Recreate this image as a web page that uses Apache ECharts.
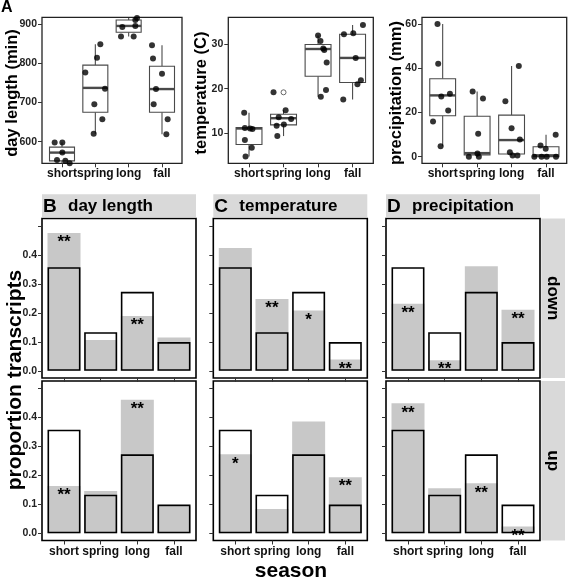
<!DOCTYPE html>
<html><head><meta charset="utf-8">
<script src="https://cdn.jsdelivr.net/npm/echarts@6/dist/echarts.min.js"></script>
<style>html,body{margin:0;padding:0;background:#fff}#c{width:568px;height:579px}</style>
</head><body><div id="c"></div>
<script>
// ---------- data ----------
const seasons = ['short', 'spring', 'long', 'fall'];

// Panel A: box stats [min, q1, median, q3, max] per season
const dayBox = [[545, 551, 572, 586, 598], [620, 675, 737, 795, 848], [868, 879, 895, 910, 915], [619, 675, 734, 792, 846]];
const tempBox = [[4.8, 7.5, 11.1, 11.3, 14.6], [9.4, 11.9, 13.4, 14.3, 15.2], [18.2, 22.8, 28.9, 29.9, 31.9], [17.6, 21.4, 26.9, 32.2, 34.3]];
const precBox = [[4.7, 18.5, 27.7, 35.2, 60], [0, 0.8, 1.6, 18.3, 29.5], [0.5, 1.2, 7.5, 18.8, 41], [0, 0, 0.6, 4.5, 9.9]];
// jittered points: [season index, jitter, value]
const dayPts = [
  [0, -0.22, 598], [0, 0.01, 598], [0, 0.01, 572], [0, -0.15, 553], [0, 0.10, 551], [0, 0.23, 545],
  [1, 0.15, 848], [1, 0.05, 814], [1, -0.30, 776], [1, -0.03, 695], [1, 0.29, 735], [1, 0.21, 657], [1, -0.05, 620],
  [2, -0.23, 868], [2, 0.15, 868], [2, -0.19, 892], [2, 0.20, 895], [2, 0.20, 910], [2, 0.25, 915],
  [3, -0.30, 846], [3, -0.27, 812], [3, 0.00, 773], [3, -0.18, 734], [3, -0.25, 695], [3, 0.17, 657], [3, 0.13, 619]
];
const tempPts = [
  [0, -0.14, 14.6], [0, -0.12, 11.2], [0, 0.03, 11.1], [0, 0.10, 11.0], [0, -0.12, 8.5], [0, 0.08, 6.8], [0, -0.10, 4.8],
  [1, -0.29, 19.2], [1, 0.06, 15.2], [1, -0.14, 13.6], [1, 0.22, 13.2], [1, -0.20, 11.7], [1, 0.01, 12.0], [1, -0.18, 9.4],
  [2, 0.00, 31.9], [2, 0.07, 30.7], [2, 0.15, 29.0], [2, 0.18, 28.7], [2, 0.25, 25.9], [2, 0.23, 19.7], [2, 0.08, 18.2],
  [3, 0.30, 34.3], [3, -0.25, 32.2], [3, 0.02, 32.4], [3, 0.09, 26.9], [3, 0.24, 21.9], [3, 0.14, 21.0], [3, -0.27, 17.6]
];
const tempOutliers = [[1, 19.2]];
const precPts = [
  [0, -0.15, 60], [0, -0.13, 42], [0, -0.04, 27.2], [0, 0.21, 28.4], [0, 0.16, 20.9], [0, -0.28, 15.9], [0, -0.06, 4.7],
  [1, -0.13, 29.5], [1, 0.17, 26.3], [1, 0.03, 10.4], [1, -0.24, 0], [1, 0.01, 1.4], [1, 0.05, 0],
  [2, 0.21, 41], [2, -0.18, 25.1], [2, 0.00, 12.9], [2, 0.24, 7.8], [2, -0.05, 2.0], [2, 0.03, 0.5], [2, 0.17, 0.5],
  [3, 0.28, 9.9], [3, -0.16, 5.0], [3, -0.01, 3.6], [3, -0.34, 0], [3, -0.13, 0], [3, 0.02, 0], [3, 0.29, 0]
];
const dayTicks = [600, 700, 800, 900];
const tempTicks = [10, 20, 30];
const precTicks = [0, 20, 40, 60];

// Panels B-D: expected (outlined) and observed (grey) proportions
const expected = [0.357, 0.133, 0.272, 0.099];
const dayDown = [0.475, 0.106, 0.189, 0.115];
const tempDown = [0.423, 0.247, 0.208, 0.039];
const precDown = [0.231, 0.036, 0.360, 0.210];
const dayUp = [0.163, 0.146, 0.460, 0.093];
const tempUp = [0.272, 0.084, 0.385, 0.193];
const precUp = [0.448, 0.155, 0.172, 0.023];
const dayDownStars = ['**', '', '**', ''];
const tempDownStars = ['', '**', '*', '**'];
const precDownStars = ['**', '**', '', '**'];
const dayUpStars = ['**', '', '**', ''];
const tempUpStars = ['*', '', '', '**'];
const precUpStars = ['**', '', '**', '**'];
const propTicks = [0, 0.1, 0.2, 0.3, 0.4, 0.5];
const propLabels = [0, 0.1, 0.2, 0.3, 0.4];

const topTitles = ['day length (min)', 'temperature (C)', 'precipitation (mm)'];
const stripLetters = ['B', 'C', 'D'];
const stripTitles = ['day length', 'temperature', 'precipitation'];
const rowTitles = ['down', 'up'];

// ---------- layout ----------
const FONT = '"Liberation Sans", Arial, Helvetica, sans-serif';
const topGrid = [
  { left: 42, top: 17.3, width: 140, height: 146 },
  { left: 228.3, top: 17.3, width: 145, height: 146 },
  { left: 422, top: 17.3, width: 144.7, height: 146 }
];
const topRange = [[544.7, 917], [3.3, 36], [-3, 63]];
const colLeft = [42, 213.3, 386], colW = 154;
const rowTop = [218.5, 381], rowH = 159.5;

const grids = [], xAxes = [], yAxes = [], series = [];

function xAxisDef(gi, showLabels, margin) {
  return {
    type: 'value', gridIndex: gi, min: -0.6, max: 3.6, position: 'bottom',
    axisLine: { show: false, onZero: false }, splitLine: { show: false },
    axisTick: { show: true, customValues: [0, 1, 2, 3], length: 4, lineStyle: { color: '#333', width: 1 } },
    axisLabel: {
      show: showLabels, customValues: [0, 1, 2, 3], margin: margin,
      formatter: v => seasons[Math.round(v)] || '',
      color: '#111', fontWeight: 'bold', fontSize: 12, fontFamily: FONT
    }
  };
}
function yAxisDef(gi, min, max, ticks, labels, showLabels) {
  return {
    type: 'value', gridIndex: gi, min: min, max: max, position: 'left',
    axisLine: { show: false, onZero: false }, splitLine: { show: false },
    axisTick: { show: true, customValues: ticks, length: 4, lineStyle: { color: '#333', width: 1 } },
    axisLabel: {
      show: showLabels, customValues: labels, margin: 5,
      color: '#222', fontWeight: 'bold', fontSize: 10.5, fontFamily: FONT,
      formatter: v => (ticks === propTicks ? v.toFixed(1) : String(v))
    }
  };
}

function renderBox(params, api) {
  const x = api.value(0);
  const p = [1, 2, 3, 4, 5].map(k => api.coord([x, api.value(k)]));
  const half = api.size([0.75, 0])[0] / 2;
  const cx = p[0][0];
  const st = { stroke: '#4a4a4a', lineWidth: 1.1 };
  return {
    type: 'group', children: [
      { type: 'line', shape: { x1: cx, y1: p[0][1], x2: cx, y2: p[1][1] }, style: st },
      { type: 'line', shape: { x1: cx, y1: p[3][1], x2: cx, y2: p[4][1] }, style: st },
      { type: 'rect', shape: { x: cx - half, y: p[3][1], width: 2 * half, height: p[1][1] - p[3][1] }, style: { fill: '#fff', stroke: '#4a4a4a', lineWidth: 1.1 } },
      { type: 'line', shape: { x1: cx - half, y1: p[2][1], x2: cx + half, y2: p[2][1] }, style: { stroke: '#4a4a4a', lineWidth: 2.4 } }
    ]
  };
}

// top panels
const boxes = [dayBox, tempBox, precBox];
const pts = [dayPts, tempPts, precPts];
const tTicks = [dayTicks, tempTicks, precTicks];
for (let i = 0; i < 3; i++) {
  const g = grids.length;
  grids.push(Object.assign({ show: true, borderColor: '#222', borderWidth: 1.3, backgroundColor: '#fff' }, topGrid[i]));
  xAxes.push(xAxisDef(g, true, 4));
  yAxes.push(yAxisDef(g, topRange[i][0], topRange[i][1], tTicks[i], tTicks[i], true));
  series.push({
    type: 'custom', xAxisIndex: g, yAxisIndex: g, renderItem: renderBox, z: 2,
    encode: { x: 0, y: [1, 2, 3, 4, 5] },
    data: boxes[i].map((b, k) => [k].concat(b))
  });
  series.push({
    type: 'scatter', xAxisIndex: g, yAxisIndex: g, z: 4, symbolSize: 6,
    itemStyle: { color: '#000' },
    data: pts[i].map(p => [p[0] + p[1], p[2]])
  });
  if (i === 1) {
    series.push({
      type: 'scatter', xAxisIndex: g, yAxisIndex: g, z: 3, symbolSize: 5,
      itemStyle: { color: '#fff', borderColor: '#444', borderWidth: 1 },
      data: tempOutliers
    });
  }
}

// bottom panels
const observed = [[dayDown, tempDown, precDown], [dayUp, tempUp, precUp]];
const stars = [[dayDownStars, tempDownStars, precDownStars], [dayUpStars, tempUpStars, precUpStars]];
for (let r = 0; r < 2; r++) {
  for (let c = 0; c < 3; c++) {
    const g = grids.length;
    grids.push({ show: true, borderColor: '#000', borderWidth: 1.6, backgroundColor: '#fff', left: colLeft[c], top: rowTop[r], width: colW, height: rowH });
    xAxes.push(xAxisDef(g, r === 1, 5));
    yAxes.push(yAxisDef(g, -0.025, 0.525, propTicks, propLabels, c === 0));
    const st = stars[r][c];
    series.push({
      type: 'bar', xAxisIndex: g, yAxisIndex: g, barWidth: 33, barGap: '-100%',
      itemStyle: { color: '#c8c8c8' },
      label: {
        show: true, position: 'insideTop', distance: 1,
        formatter: p => st[p.dataIndex], color: '#000', fontSize: 17, fontWeight: 'bold', fontFamily: FONT
      },
      data: observed[r][c].map((v, k) => [k, v])
    });
    series.push({
      type: 'bar', xAxisIndex: g, yAxisIndex: g, barWidth: 33, barGap: '-100%',
      itemStyle: { color: 'rgba(0,0,0,0)', borderColor: '#000', borderWidth: 1.6 },
      data: expected.map((v, k) => [k, v])
    });
  }
}

// ---------- text & strips ----------
const graphic = [];
graphic.push({ type: 'text', left: 1, top: 0, style: { text: 'A', font: 'bold 16px ' + FONT, fill: '#000' } });
const topTitleX = [12.5, 201, 396];
for (let i = 0; i < 3; i++) {
  graphic.push({ type: 'text', x: topTitleX[i], y: 93, rotation: Math.PI / 2,
    style: { text: topTitles[i], font: 'bold 16.5px ' + FONT, fill: '#000', align: 'center', verticalAlign: 'middle' } });
}
for (let c = 0; c < 3; c++) {
  graphic.push({ type: 'rect', shape: { x: colLeft[c], y: 194.3, width: colW, height: 23 }, style: { fill: '#d9d9d9' } });
  graphic.push({ type: 'text', x: colLeft[c] + 1, y: 206.5, style: { text: stripLetters[c], font: 'bold 19px ' + FONT, fill: '#000', align: 'left', verticalAlign: 'middle' } });
  graphic.push({ type: 'text', x: colLeft[c] + 26, y: 206.5, style: { text: stripTitles[c], font: 'bold 17px ' + FONT, fill: '#000', align: 'left', verticalAlign: 'middle' } });
}
for (let r = 0; r < 2; r++) {
  graphic.push({ type: 'rect', shape: { x: 541.3, y: rowTop[r], width: 23.7, height: rowH }, style: { fill: '#d9d9d9' } });
  graphic.push({ type: 'text', x: 553, y: rowTop[r] + rowH / 2, rotation: -Math.PI / 2,
    style: { text: rowTitles[r], font: 'bold 17px ' + FONT, fill: '#000', align: 'center', verticalAlign: 'middle' } });
}
graphic.push({ type: 'text', x: 15, y: 380, rotation: Math.PI / 2,
  style: { text: 'proportion transcripts', font: 'bold 21px ' + FONT, fill: '#000', align: 'center', verticalAlign: 'middle' } });
graphic.push({ type: 'text', x: 291, y: 571, style: { text: 'season', font: 'bold 21px ' + FONT, fill: '#000', align: 'center', verticalAlign: 'middle' } });

const chart = echarts.init(document.getElementById('c'), null, { renderer: 'canvas' });
chart.setOption({
  animation: false,
  backgroundColor: '#fff',
  grid: grids, xAxis: xAxes, yAxis: yAxes, series: series, graphic: graphic
});
</script>
</body></html>
